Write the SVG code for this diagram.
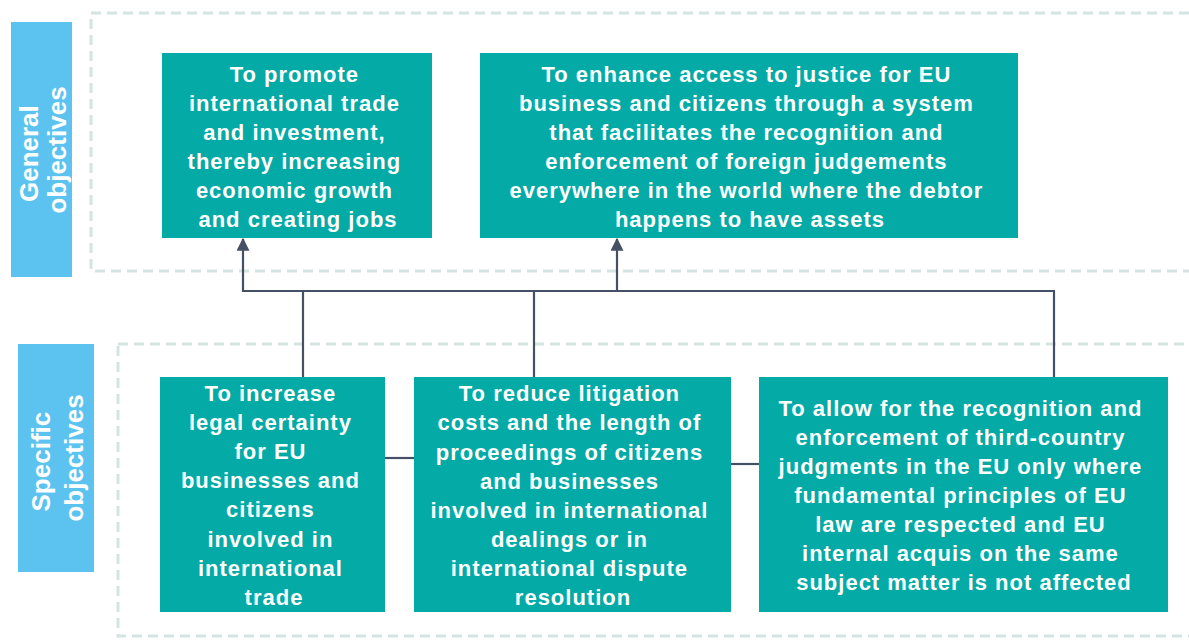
<svg xmlns="http://www.w3.org/2000/svg" width="1189" height="641" viewBox="0 0 1189 641">
  <defs>
    <marker id="arrow" viewBox="0 0 10 10" refX="9" refY="5" markerWidth="13" markerHeight="13" markerUnits="userSpaceOnUse" orient="auto">
      <path d="M0,0 L10,5 L0,10 z" fill="#465064"/>
    </marker>
    <style>
      .band { fill: none; stroke: #d5e4e2; stroke-width: 3; stroke-dasharray: 10 6; }
      .tag { fill: #5cc3f0; }
      .tag-text { font-family: "Liberation Sans", Arial, sans-serif; font-weight: bold; font-size: 26px; fill: #ffffff; text-anchor: middle; }
      .box { fill: #03aaa6; }
      .box-text { font-family: "Liberation Sans", Arial, sans-serif; font-weight: bold; font-size: 22px; letter-spacing: 1px; fill: #ffffff; text-anchor: middle; }
      .link { fill: none; stroke: #465064; stroke-width: 2.2; }
    </style>
  </defs>
  <rect width="1189" height="641" fill="#ffffff"/>

  <!-- tier bands -->
  <rect class="band" x="91" y="13" width="1110" height="258"/>
  <rect class="band" x="118" y="344" width="1090" height="292"/>

  <!-- tier labels -->
  <g id="label-general">
    <rect class="tag" x="11" y="22" width="61" height="255"/>
    <text class="tag-text" transform="translate(41.5,150) rotate(-90)">
      <tspan x="0" y="-4">General</tspan>
      <tspan x="0" y="24">objectives</tspan>
    </text>
  </g>
  <g id="label-specific">
    <rect class="tag" x="18" y="344" width="76" height="228"/>
    <text class="tag-text" transform="translate(56,458) rotate(-90)">
      <tspan x="0" y="-6">Specific</tspan>
      <tspan x="0" y="27">objectives</tspan>
    </text>
  </g>

  <!-- connectors -->
  <g id="connectors">
    <polyline class="link" points="243,291 1054,291 1054,377"/>
    <line class="link" x1="243" y1="292" x2="243" y2="239" marker-end="url(#arrow)"/>
    <line class="link" x1="617" y1="291" x2="617" y2="239" marker-end="url(#arrow)"/>
    <line class="link" x1="303" y1="377" x2="303" y2="291"/>
    <line class="link" x1="534" y1="377" x2="534" y2="291"/>
    <line class="link" x1="385" y1="458" x2="414" y2="458"/>
    <line class="link" x1="731" y1="464" x2="759" y2="464"/>
  </g>

  <!-- general objectives -->
  <g id="general-1">
    <rect class="box" x="162" y="53" width="270" height="185"/>
    <text class="box-text">
      <tspan x="298" y="82">To promote</tspan>
      <tspan x="298" y="111">international  trade</tspan>
      <tspan x="298" y="140">and investment,</tspan>
      <tspan x="298" y="169">thereby increasing</tspan>
      <tspan x="298" y="198">economic growth</tspan>
      <tspan x="298" y="227">and creating jobs</tspan>
    </text>
  </g>
  <g id="general-2">
    <rect class="box" x="480" y="53" width="538" height="185"/>
    <text class="box-text">
      <tspan x="750" y="82">To enhance access to justice for EU</tspan>
      <tspan x="750" y="111">business and citizens through a system</tspan>
      <tspan x="750" y="140">that facilitates  the recognition  and</tspan>
      <tspan x="750" y="169">enforcement of foreign judgements</tspan>
      <tspan x="750" y="198">everywhere in the world where the debtor</tspan>
      <tspan x="750" y="227">happens to have assets</tspan>
    </text>
  </g>

  <!-- specific objectives -->
  <g id="specific-1">
    <rect class="box" x="160" y="377" width="225" height="235"/>
    <text class="box-text">
      <tspan x="274" y="401">To increase</tspan>
      <tspan x="274" y="430">legal  certainty</tspan>
      <tspan x="274" y="459">for EU</tspan>
      <tspan x="274" y="488">businesses and</tspan>
      <tspan x="274" y="517">citizens</tspan>
      <tspan x="274" y="547">involved in</tspan>
      <tspan x="274" y="576">international</tspan>
      <tspan x="274" y="605">trade</tspan>
    </text>
  </g>
  <g id="specific-2">
    <rect class="box" x="414" y="377" width="317" height="235"/>
    <text class="box-text">
      <tspan x="573" y="401">To reduce litigation</tspan>
      <tspan x="573" y="430">costs and the length  of</tspan>
      <tspan x="573" y="460">proceedings  of citizens</tspan>
      <tspan x="573" y="489">and businesses</tspan>
      <tspan x="573" y="518">involved in international</tspan>
      <tspan x="573" y="547">dealings  or in</tspan>
      <tspan x="573" y="576">international  dispute</tspan>
      <tspan x="573" y="605">resolution</tspan>
    </text>
  </g>
  <g id="specific-3">
    <rect class="box" x="759" y="377" width="409" height="235"/>
    <text class="box-text">
      <tspan x="964" y="416">To allow for the recognition  and</tspan>
      <tspan x="964" y="445">enforcement of third-country</tspan>
      <tspan x="964" y="474">judgments in the EU only where</tspan>
      <tspan x="964" y="503">fundamental  principles  of EU</tspan>
      <tspan x="964" y="532">law are respected and EU</tspan>
      <tspan x="964" y="561">internal acquis on the same</tspan>
      <tspan x="964" y="590">subject matter is not affected</tspan>
    </text>
  </g>
</svg>
